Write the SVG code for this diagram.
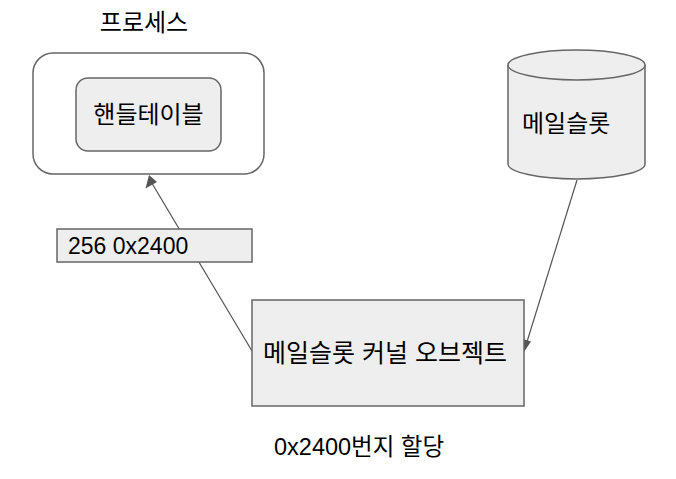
<svg xmlns="http://www.w3.org/2000/svg" width="676" height="479" viewBox="0 0 676 479">
<defs>
<style>
.box{stroke:#666;stroke-width:1.5;}
.t{font-family:"Liberation Sans","Noto Sans CJK KR",sans-serif;font-size:23px;fill:#000;}
.k{font-size:24px;}
</style>
</defs>
<rect width="676" height="479" fill="#fff"/>
<g id="connectors">
<line x1="252" y1="351" x2="150" y2="180" stroke="#555" stroke-width="1.2"/>
<path d="M149,175 L145.5,188.5 L157,182 z" fill="#555"/>
<line x1="577" y1="180" x2="526" y2="345" stroke="#555" stroke-width="1.2"/>
<path d="M524,352 L519.5,338 L531,341.5 z" fill="#555"/>
</g>
<g id="process">
<text class="t k" x="144" y="31" text-anchor="middle">프로세스</text>
<rect class="box" x="33" y="53" width="231" height="121" rx="20" fill="#fff"/>
</g>
<g id="handletable">
<rect class="box" x="76" y="78" width="145" height="73" rx="12" fill="#eee"/>
<text class="t k" x="148.5" y="123" text-anchor="middle">핸들테이블</text>
</g>
<g id="mailslot">
<path class="box" d="M508,65 L508,164 A68.5,15 0 0 0 645,164 L645,65" fill="#eee"/>
<ellipse class="box" cx="576.5" cy="65" rx="68.5" ry="15" fill="#eee"/>
<text class="t k" x="522" y="132">메일슬롯</text>
</g>
<g id="label">
<rect class="box" x="57" y="229" width="195" height="33" fill="#eee"/>
<text class="t" x="68" y="254">256 0x2400</text>
</g>
<g id="kernel">
<rect class="box" x="252" y="300" width="272" height="106" fill="#eee"/>
<text class="t" x="385" y="362" text-anchor="middle" style="font-size:25px">메일슬롯 커널 오브젝트</text>
</g>
<g id="note">
<text class="t" x="274" y="455" style="font-size:23.5px">0x2400번지 할당</text>
</g>
</svg>
